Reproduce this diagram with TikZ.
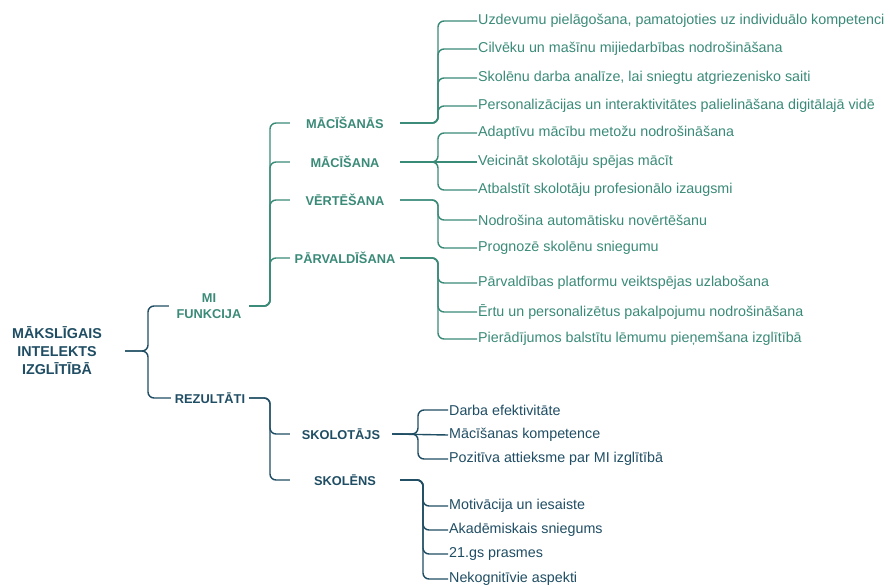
\documentclass[tikz,border=0pt]{standalone}
\usepackage{fontspec}
\setmainfont{Liberation Sans}
\definecolor{tealc}{HTML}{3A8A78}
\definecolor{darkc}{HTML}{1F4D63}
\begin{document}
\begin{tikzpicture}[x=1pt,y=-1pt,
  lt/.style={draw=tealc, line width=1.4pt, rounded corners=6pt},
  ld/.style={draw=darkc, line width=1.4pt, rounded corners=6pt},
  headt/.style={font=\bfseries\fontsize{12.8}{15.5}\selectfont, text=tealc, inner xsep=0pt, inner ysep=2pt, align=center},
  headd/.style={font=\bfseries\fontsize{12.8}{15.5}\selectfont, text=darkc, inner xsep=0pt, inner ysep=2pt, align=center},
  leaft/.style={anchor=west, inner xsep=1pt, font=\fontsize{14.3}{16}\selectfont, text=tealc},
  leafd/.style={anchor=west, inner xsep=1pt, font=\fontsize{14.3}{16}\selectfont, text=darkc}]
\useasboundingbox (0,0) rectangle (890,585);
% brace columns
\coordinate (c0) at (148,0);
\coordinate (c1) at (270,0);
\coordinate (cA) at (438,0);
\coordinate (cB) at (418,0);
\coordinate (cC) at (423,0);
% root
\node[font=\bfseries\fontsize{14.3}{18}\selectfont, text=darkc, align=center, text width=100pt, inner xsep=18pt] (root) at (57,351) {MĀKSLĪGAIS\\INTELEKTS\\IZGLĪTĪBĀ};
% level 1
\node[headt, minimum width=80pt] (mi) at (209,306) {MI\\FUNKCIJA};
\node[headd, minimum width=78pt] (rez) at (210,398) {REZULTĀTI};
% level 2
\node[headt, minimum width=110pt] (m1) at (345,123) {MĀCĪŠANĀS};
\node[headt, minimum width=110pt] (m2) at (345,162) {MĀCĪŠANA};
\node[headt, minimum width=110pt] (m3) at (345,200) {VĒRTĒŠANA};
\node[headt, minimum width=110pt] (m4) at (345,258) {PĀRVALDĪŠANA};
\node[headd, minimum width=102pt] (r1) at (341,434) {SKOLOTĀJS};
\node[headd, minimum width=110pt] (r2) at (345,480) {SKOLĒNS};
% leaves MI
\node[leaft] (a1) at (477,21) {Uzdevumu pielāgošana, pamatojoties uz individuālo kompetenci};
\node[leaft] (a2) at (477,49) {Cilvēku un mašīnu mijiedarbības nodrošināšana};
\node[leaft] (a3) at (477,78) {Skolēnu darba analīze, lai sniegtu atgriezenisko saiti};
\node[leaft] (a4) at (477,106) {Personalizācijas un interaktivitātes palielināšana digitālajā vidē};
\node[leaft] (b1) at (477,133) {Adaptīvu mācību metožu nodrošināšana};
\node[leaft] (b2) at (477,162) {Veicināt skolotāju spējas mācīt};
\node[leaft] (b3) at (477,190) {Atbalstīt skolotāju profesionālo izaugsmi};
\node[leaft] (v1) at (477,220) {Nodrošina automātisku novērtēšanu};
\node[leaft] (v2) at (477,248) {Prognozē skolēnu sniegumu};
\node[leaft] (p1) at (477,283) {Pārvaldības platformu veiktspējas uzlabošana};
\node[leaft] (p2) at (477,312) {Ērtu un personalizētus pakalpojumu nodrošināšana};
\node[leaft] (p3) at (477,339) {Pierādījumos balstītu lēmumu pieņemšana izglītībā};
% leaves Rezultati
\node[leafd] (s1) at (448,410) {Darba efektivitāte};
\node[leafd] (s2) at (448,435) {Mācīšanas kompetence};
\node[leafd] (s3) at (448,459) {Pozitīva attieksme par MI izglītībā};
\node[leafd] (k1) at (448,506) {Motivācija un iesaiste};
\node[leafd] (k2) at (448,530) {Akadēmiskais sniegums};
\node[leafd] (k3) at (448,554) {21.gs prasmes};
\node[leafd] (k4) at (448,579) {Nekognitīvie aspekti};
% connectors root
\draw[ld] (root.east) -- (root.east -| c0) |- (mi.west);
\draw[ld] (root.east) -- (root.east -| c0) |- (rez.west);
% MI -> level 2
\foreach \t in {m1,m2,m3,m4}
  \draw[lt] (mi.east) -- (mi.east -| c1) |- (\t.west);
% Rezultati -> level 2
\foreach \t in {r1,r2}
  \draw[ld] (rez.east) -- (rez.east -| c1) |- (\t.west);
% level 2 -> leaves
\foreach \t in {a1,a2,a3,a4}
  \draw[lt] (m1.east) -- (m1.east -| cA) |- (\t.west);
\foreach \t in {b1,b3}
  \draw[lt] (m2.east) -- (m2.east -| cA) |- (\t.west);
\draw[lt] (m2.east) -- (b2.west);
\foreach \t in {v1,v2}
  \draw[lt] (m3.east) -- (m3.east -| cA) |- (\t.west);
\foreach \t in {p1,p2,p3}
  \draw[lt] (m4.east) -- (m4.east -| cA) |- (\t.west);
\foreach \t in {s1,s3}
  \draw[ld] (r1.east) -- (r1.east -| cB) |- (\t.west);
\draw[ld] (r1.east) -- (s2.west);
\foreach \t in {k1,k2,k3,k4}
  \draw[ld] (r2.east) -- (r2.east -| cC) |- (\t.west);
\end{tikzpicture}
\end{document}
